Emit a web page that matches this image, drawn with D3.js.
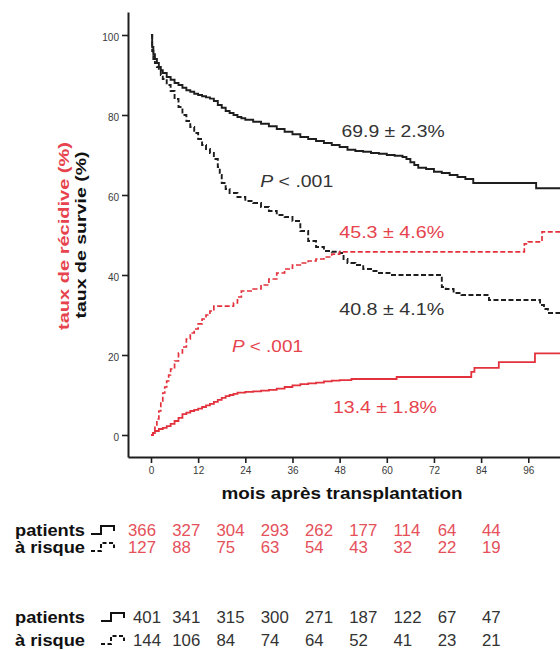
<!DOCTYPE html>
<html><head><meta charset="utf-8">
<script src="https://cdn.jsdelivr.net/npm/d3@7"></script>
<style>body{margin:0;background:#fff}svg{display:block;font-family:"Liberation Sans",Arial,sans-serif;background:#fff}</style>
</head><body><svg id="c" width="560" height="650"></svg>
<script>
// ---------- data ----------
const xTicks = [0, 12, 24, 36, 48, 60, 72, 84, 96];
const yTicks = [0, 20, 40, 60, 80, 100];
const xTitle = "mois après transplantation";
const yTitleRed = "taux de récidive (%)";
const yTitleBlack = "taux de survie (%)";

// Kaplan-Meier step points [month, %]
const survivalSolid = [[0,100],[0.3,97],[0.6,95.2],[1,94],[1.5,93],[2,92],[2.5,91.2],[3,90.5],[4,89.5],[5,88.8],[6,88],[7,87.5],[8,86.8],[9,86.2],[10,85.8],[11,85.3],[12,85],[13,84.7],[14,84.4],[15,84.1],[16,83.5],[17,82.5],[18,81.8],[19,81],[20,80.5],[21,80],[22,79.5],[23,79.2],[24,78.8],[26,78.3],[28,77.8],[30,77.2],[32,76.5],[34,75.8],[36,75.2],[38,74.5],[40,74],[42,73.5],[44,73],[46,72.5],[48,72],[50,71.3],[52,71],[54,70.8],[56,70.5],[58,70.3],[60,70],[62,69.8],[64,69.5],[65,69],[66,68.2],[67,67.5],[68,66.8],[70,66.5],[72,65.8],[74,65.5],[76,65],[78,64.5],[80,64],[82,63],[98,61.7],[106,61.7]];
const survivalDashed = [[0,100],[0.3,96],[0.6,94],[1,93],[1.5,92],[2,91],[2.5,90],[3,89],[4,87.5],[5,86],[6,84],[7,82],[8,80],[9,78.5],[10,77],[11,75.5],[12,74],[13,72.5],[14,71.5],[15,70.5],[16,69],[17,67],[17.5,65],[18,63],[19,61.5],[20,60.5],[22,59.5],[24,58.5],[26,58],[28,57],[30,56],[32,55],[34,54.5],[36,53.5],[38,51],[40,48.5],[42,47],[44,46],[46,45.8],[48,45.5],[49,44],[50,43],[52,42.5],[54,41.5],[56,41],[58,40.5],[61,40],[74,37],[75,36.5],[77,35.5],[79,35],[86,33.75],[99,32.5],[100,31.5],[101,30.5],[106,30.5]];
const recurrenceDashed = [[0,0],[0.5,1],[1,2.5],[1.5,4],[2,6],[2.5,8.5],[3,10.5],[3.5,12],[4,13.5],[4.5,15],[5,16.5],[6,18.5],[7,20.5],[8,22],[9,24],[10,25.5],[11,26.5],[12,27.8],[13,29],[14,30],[15,31],[16,32.2],[21,33],[22,34.5],[23,36],[26,36.5],[28,37.5],[30,39],[32,40.5],[34,41.5],[36,42.5],[38,43],[40,43.5],[42,44],[44,44.5],[46,45.2],[48,45.8],[95,47.8],[96,48.3],[99.5,50.8],[106,50.8]];
const recurrenceSolid = [[0,0],[0.5,0.5],[1,1],[2,1.5],[3,1.8],[4,2.2],[5,2.8],[6,3.5],[7,4.3],[8,5.2],[9,5.6],[10,6],[11,6.3],[12,6.6],[13,7],[14,7.4],[15,7.8],[16,8.3],[17,8.8],[18,9.3],[19,9.7],[20,10],[21,10.3],[22,10.6],[24,10.8],[26,10.9],[28,11.1],[30,11.3],[32,11.6],[34,12],[36,12.4],[38,12.7],[40,12.9],[42,13.1],[44,13.4],[46,13.6],[48,13.7],[51,14],[62.5,14.5],[81.5,15.8],[82.3,16.8],[88.5,18.2],[97.7,20.4],[106,20.4]];

// annotations
const annotations = [
  {text:"69.9 ± 2.3%", m:48.5, v:74.5, w:103, color:"black"},
  {text:".001", p:true, m:27.8, v:62, w:73, color:"black"},
  {text:"45.3 ± 4.6%", m:47.9, v:49.3, w:105, color:"red"},
  {text:"40.8 ± 4.1%", m:47.9, v:30, w:105, color:"black"},
  {text:".001", p:true, m:20.6, v:20.8, w:71, color:"red"},
  {text:"13.4 ± 1.8%", m:46.3, v:5.5, w:104, color:"red"}
];

// numbers at risk (columns 0..96 months)
const riskLabels = ["patients", "à risque"];
const riskRedSolid = [366,327,304,293,262,177,114,64,44];
const riskRedDashed = [127,88,75,63,54,43,32,22,19];
const riskBlackSolid = [401,341,315,300,271,187,122,67,47];
const riskBlackDashed = [144,106,84,74,64,52,41,23,21];

// ---------- drawing ----------
const RED = "#e3323d", RED_T = "#e6434d", BLK = "#1e1e1e", BLK_T = "#333";
const svg = d3.select("#c");
const x = d3.scaleLinear().domain([-5.85, 110]).range([128, 128 + 115.85 * 3.93]);
const y = d3.scaleLinear().domain([-5.5, 105.75]).range([457, 12]);

// axes
const gx = svg.append("g").attr("transform", `translate(0,${y(-5.5)})`)
  .call(d3.axisBottom(x).tickValues(xTicks).tickSize(6).tickSizeOuter(0).tickPadding(4));
const gy = svg.append("g").attr("transform", `translate(${x(-5.85)},0)`)
  .call(d3.axisLeft(y).tickValues(yTicks).tickSize(6).tickSizeOuter(0).tickPadding(3));
[gx, gy].forEach(g => {
  g.select(".domain").attr("stroke", BLK).attr("stroke-width", 2);
  g.selectAll(".tick line").attr("stroke", BLK).attr("stroke-width", 1.6);
  g.selectAll(".tick text").attr("fill", "#3a3a3a").attr("font-size", 10)
    .attr("font-family", '"Liberation Sans",Arial,sans-serif');
});
gy.selectAll(".tick text").attr("dy", "0.5em");

// curves
const line = d3.line().x(d => x(d[0])).y(d => y(d[1])).curve(d3.curveStepAfter);
const curves = [
  {d: survivalSolid, c: BLK, dash: null, w: 1.9},
  {d: survivalDashed, c: BLK, dash: "5,2.5", w: 1.9},
  {d: recurrenceDashed, c: RED, dash: "5,2.5", w: 1.7},
  {d: recurrenceSolid, c: RED, dash: null, w: 1.8}
];
curves.forEach(k => {
  svg.append("path").attr("d", line(k.d)).attr("fill", "none")
    .attr("stroke", k.c).attr("stroke-width", k.w)
    .attr("stroke-dasharray", k.dash);
});

// annotations
annotations.forEach(a => {
  const t = svg.append("text").attr("x", x(a.m)).attr("y", y(a.v))
    .attr("font-size", 17).attr("fill", a.color === "red" ? RED_T : BLK_T)
    .attr("textLength", a.w).attr("lengthAdjust", "spacingAndGlyphs");
  if (a.p) {
    t.append("tspan").attr("font-style", "italic").text("P");
    t.append("tspan").text(" < " + a.text);
  } else t.text(a.text);
});

// titles
svg.append("text").attr("x", 342).attr("y", 499).attr("text-anchor", "middle")
  .attr("font-size", 16).attr("font-weight", "bold").attr("fill", "#111")
  .attr("textLength", 241).attr("lengthAdjust", "spacingAndGlyphs").text(xTitle);
svg.append("text").attr("transform", "translate(69,236) rotate(-90)").attr("text-anchor", "middle")
  .attr("font-size", 15).attr("font-weight", "bold").attr("fill", RED_T)
  .attr("textLength", 188).attr("lengthAdjust", "spacingAndGlyphs").text(yTitleRed);
svg.append("text").attr("transform", "translate(86,235) rotate(-90)").attr("text-anchor", "middle")
  .attr("font-size", 15).attr("font-weight", "bold").attr("fill", "#111")
  .attr("textLength", 167).attr("lengthAdjust", "spacingAndGlyphs").text(yTitleBlack);

// risk tables
const col = d3.scaleLinear().domain([0, 8]).range([128, 482]);
function icon(x0, yb, dashed, color) {
  const p = d3.path();
  p.moveTo(x0, yb); p.lineTo(x0 + 10, yb); p.lineTo(x0 + 10, yb - 8);
  p.lineTo(x0 + 23, yb - 8); p.lineTo(x0 + 23, yb - 3);
  svg.append("path").attr("d", p.toString()).attr("fill", "none")
    .attr("stroke", color).attr("stroke-width", 2)
    .attr("stroke-dasharray", dashed ? "4,2.5" : null);
}
function table(rows, yBase, color, iconX, firstShift) {
  rows.forEach((vals, r) => {
    const yy = yBase[r];
    svg.append("text").attr("x", 15).attr("y", yy).attr("font-size", 16)
      .attr("font-weight", "bold").attr("fill", "#111")
      .attr("textLength", 70).attr("lengthAdjust", "spacingAndGlyphs")
      .text(riskLabels[r]);
    icon(iconX, yy - 2, r === 1, "#111");
    svg.selectAll(null).data(vals).enter().append("text")
      .attr("x", (d, i) => col(i) + (i === 0 ? firstShift : 0)).attr("y", yy)
      .attr("font-size", 16).attr("fill", color)
      .attr("transform", (d, i) => { const xx = col(i) + (i === 0 ? firstShift : 0); return `translate(${xx},0) scale(1.05,1) translate(${-xx},0)`; })
      .text(d => d);
  });
}
table([riskRedSolid, riskRedDashed], [536, 553], "#e5505a", 91, 0);
table([riskBlackSolid, riskBlackDashed], [623, 646], "#333", 101, 5);
</script></body></html>
